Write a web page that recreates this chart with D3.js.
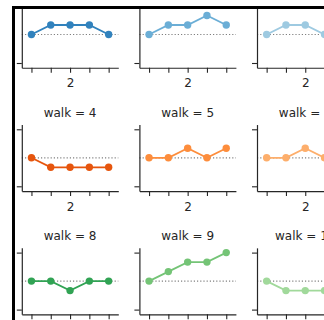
<!DOCTYPE html>
<html>
<head>
<meta charset="utf-8">
<script src="https://cdn.jsdelivr.net/npm/d3@7"></script>
<style>
  body { margin: 0; background: #fff; }
  svg { display: block; }
  text { font-family: "DejaVu Sans", sans-serif; }
</style>
</head>
<body>
<svg id="chart" width="324" height="320"></svg>
<script>
// random walks, 5 steps each (facet grid, col_wrap = 4)
const steps = [0, 1, 2, 3, 4];
const xTickLabels = ["", "", "2", "", ""];
const yTicks = [-3, 3];
const walks = [0, 1, 2, 4, 5, 6, 8, 9, 10];
const positions = [
  [0, 1, 1, 1, 0],
  [0, 1, 1, 2, 1],
  [0, 1, 1, 0, 0],
  [0, -1, -1, -1, -1],
  [0, 0, 1, 0, 1],
  [0, 0, 1, 0, 0],
  [0, 0, -1, 0, 0],
  [0, 1, 2, 2, 3],
  [0, -1, -1, -1, -1],
];
const palette = [
  "#3182bd", "#6baed6", "#9ecae1", "#c6dbef",
  "#e6550d", "#fd8d3c", "#fdae6b", "#fdd0a2",
  "#31a354", "#74c476", "#a1d99b", "#c7e9c0",
];

const colWrap = 4;
const colPitch = 117.6, rowPitch = 123.3;
const left0 = 21.8, top0 = 1.25;
const panelW = 96.5, panelH = 66.5;
const ink = "#262626";
const H = 320;

const svg = d3.select("#chart");

svg.append("clipPath").attr("id", "inner")
  .append("rect").attr("x", 15).attr("y", 9).attr("width", 324).attr("height", H);

const root = svg.append("g").attr("clip-path", "url(#inner)");

const x = d3.scaleLinear().domain([-0.5, 4.5]).range([0, panelW]);
const y = d3.scaleLinear().domain([-3.5, 3.5]).range([panelH, 0]);

const line = d3.line()
  .x((d, i) => x(steps[i]))
  .y((d) => y(d));

walks.forEach((w, k) => {
  const col = w % colWrap;
  const row = Math.floor(w / colWrap);
  const color = palette[w];
  const top = top0 + row * rowPitch;
  const g = root.append("g")
    .attr("transform", `translate(${left0 + col * colPitch},${top})`);

  // reference line at y = 0
  g.append("line")
    .attr("x1", 0).attr("x2", panelW)
    .attr("y1", y(0)).attr("y2", y(0))
    .attr("stroke", "#808080")
    .attr("stroke-width", 1.2)
    .attr("stroke-dasharray", "1.2,2");

  g.append("path")
    .datum(positions[k])
    .attr("d", line)
    .attr("fill", "none")
    .attr("stroke", color)
    .attr("stroke-width", 1.8);

  g.selectAll("circle")
    .data(positions[k])
    .join("circle")
    .attr("cx", (d, i) => x(steps[i]))
    .attr("cy", (d) => y(d))
    .attr("r", 3.7)
    .attr("fill", color);

  // tick labels of the last row fall below the picture
  const showLabels = top + panelH + 20 < H;
  const ax = g.append("g")
    .attr("transform", `translate(0,${panelH})`)
    .call(d3.axisBottom(x).tickValues(steps).tickSize(5).tickSizeOuter(0)
      .tickPadding(6).tickFormat((d, i) => (showLabels ? xTickLabels[i] : "")));

  const ay = g.append("g")
    .call(d3.axisLeft(y).tickValues(yTicks).tickSize(5).tickSizeOuter(0)
      .tickFormat(""));

  [ax, ay].forEach((a) => {
    a.select(".domain").attr("stroke", ink).attr("stroke-width", 1.2);
    a.selectAll(".tick line").attr("stroke", ink).attr("stroke-width", 1.1);
    a.selectAll(".tick text")
      .attr("fill", ink)
      .style("font-size", "12px")
      .style("font-family", "'DejaVu Sans', sans-serif");
  });

  // the top row's titles sit above the frame and are not shown
  if (top - 7.5 > 9) {
    g.append("text")
      .attr("x", panelW / 2)
      .attr("y", -7.5)
      .attr("text-anchor", "middle")
      .attr("fill", ink)
      .style("font-size", "12px")
      .text(`walk = ${w}`);
  }
});

// dark frame along the top and left edges
svg.append("path")
  .attr("d", "M13.5,320V7.5H324")
  .attr("fill", "none")
  .attr("stroke", "#000")
  .attr("stroke-width", 3);
</script>
</body>
</html>
